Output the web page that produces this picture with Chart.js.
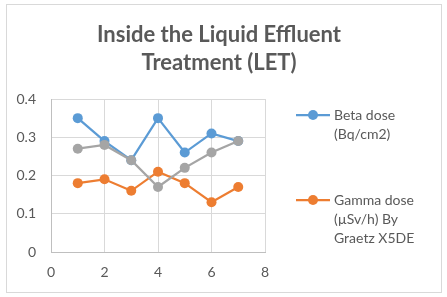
<!DOCTYPE html>
<html>
<head>
<meta charset="utf-8">
<script src="https://cdn.jsdelivr.net/npm/chart.js@4.4.1/dist/chart.umd.min.js"></script>
<style>
  html, body { margin: 0; padding: 0; background: #fff; }
  canvas { display: block; }
</style>
</head>
<body>
<canvas id="letChart" width="447" height="297"></canvas>
<script>
// sample index 1..7
const xValues = [1, 2, 3, 4, 5, 6, 7];
const betaDose = [0.35, 0.29, 0.24, 0.35, 0.26, 0.31, 0.29];
const gammaDose = [0.18, 0.19, 0.16, 0.21, 0.18, 0.13, 0.17];
const thirdSeries = [0.27, 0.28, 0.24, 0.17, 0.22, 0.26, 0.29];
const titleLines = ['Inside the Liquid Effluent', 'Treatment (LET)'];
const legendItems = [
    { lines: ['Beta dose', '(Bq/cm2)'], color: '#5b9bd5' },
    { lines: ['Gamma dose', '(\u00b5Sv/h) By', 'Graetz X5DE'], color: '#ed7d31' }
];

const FONT = 'Lato, "Open Sans", sans-serif';
const TEXT = '#595959';

function toPoints(ys) {
    return xValues.map((x, i) => ({ x: x, y: ys[i] }));
}

function series(label, ys, color, order) {
    return {
        label: label,
        data: toPoints(ys),
        order: order,
        borderColor: color,
        backgroundColor: color,
        borderWidth: 2.25,
        pointRadius: 5,
        pointHoverRadius: 5,
        pointBorderWidth: 0,
        showLine: true,
        tension: 0
    };
}

// frame, title and side legend, drawn like the spreadsheet chart
const decor = {
    id: 'decor',
    beforeDraw(chart) {
        const c = chart.ctx;
        c.save();
        c.fillStyle = '#fff';
        c.fillRect(0, 0, chart.width, chart.height);
        c.strokeStyle = '#d9d9d9';
        c.lineWidth = 1;
        c.strokeRect(6.5, 4.5, 435, 288);
        c.restore();
    },
    afterDraw(chart) {
        const c = chart.ctx;
        c.save();
        c.fillStyle = TEXT;
        c.textAlign = 'center';
        c.textBaseline = 'alphabetic';
        c.font = 'bold 22px ' + FONT;
        c.fillText(titleLines[0], 219, 42);
        c.fillText(titleLines[1], 219, 70);

        c.font = '14px ' + FONT;
        c.textAlign = 'left';
        const rows = [115, 200];
        legendItems.forEach((item, k) => {
            const y = rows[k];
            c.strokeStyle = item.color;
            c.lineWidth = 2.25;
            c.beginPath();
            c.moveTo(296, y);
            c.lineTo(330, y);
            c.stroke();
            c.fillStyle = item.color;
            c.beginPath();
            c.arc(313, y, 5, 0, Math.PI * 2);
            c.fill();
            c.fillStyle = TEXT;
            item.lines.forEach((t, j) => c.fillText(t, 334, y + 5 + j * 19));
        });
        c.restore();
    }
};

new Chart(document.getElementById('letChart'), {
    type: 'scatter',
    data: {
        datasets: [
            series('Beta dose (Bq/cm2)', betaDose, '#5b9bd5', 3),
            series('Gamma dose (\u00b5Sv/h) By Graetz X5DE', gammaDose, '#ed7d31', 2),
            series('Series3', thirdSeries, '#a5a5a5', 1)
        ]
    },
    options: {
        responsive: false,
        animation: false,
        layout: {
            padding: { left: 6, top: 99, right: 182, bottom: 15 }
        },
        plugins: {
            legend: { display: false },
            title: { display: false },
            tooltip: { enabled: false }
        },
        scales: {
            x: {
                min: 0,
                max: 8,
                ticks: { stepSize: 2, padding: 12, color: TEXT, font: { family: FONT, size: 14 } },
                grid: { color: '#d9d9d9', drawTicks: false },
                border: { color: '#bfbfbf' },
                afterFit(scale) { scale.height = 30; }
            },
            y: {
                min: 0,
                max: 0.4,
                ticks: {
                    stepSize: 0.1,
                    padding: 15,
                    color: TEXT,
                    font: { family: FONT, size: 14 },
                    callback: v => Number(v.toFixed(1)).toString()
                },
                grid: { color: '#d9d9d9', drawTicks: false },
                border: { color: '#bfbfbf' },
                afterFit(scale) { scale.width = 45; }
            }
        }
    },
    plugins: [decor]
});
</script>
</body>
</html>
